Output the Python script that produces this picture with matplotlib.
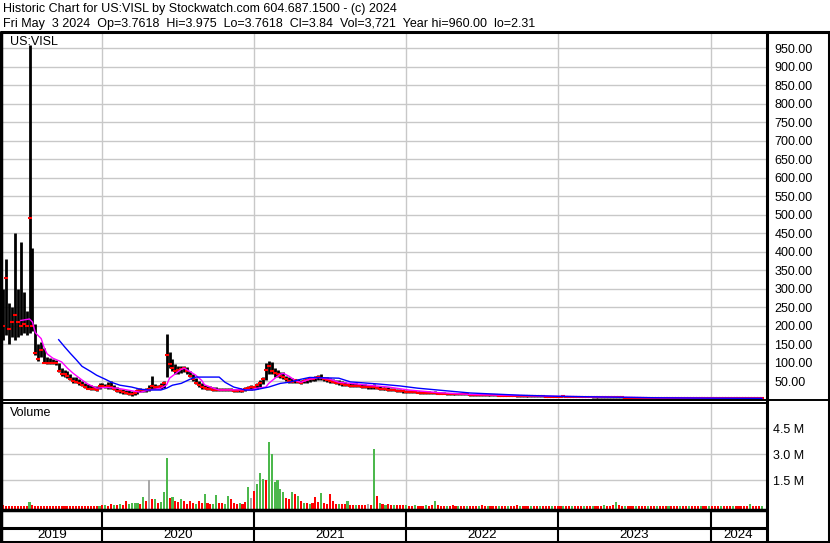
import matplotlib
matplotlib.use("Agg")
import matplotlib.pyplot as plt
import pandas as pd

plt.rcParams['font.family'] = ['Liberation Sans', 'DejaVu Sans']

# --- data (weekly) ---
START_WEEK = "2019-05-10"

HIGH = [
    300, 380, 260, 250, 450, 300, 425, 290, 240, 960,
    410, 205, 150, 155, 140, 115, 112, 110, 108, 100,
    85, 80, 78, 70, 62, 60, 55, 50, 45, 42,
    40, 38, 36, 44, 45, 42, 48, 50, 40, 34,
    30, 28, 26, 25, 22, 22, 28, 32, 30, 32,
    40, 63, 42, 40, 45, 50, 178, 130, 110, 95,
    90, 92, 90, 88, 78, 68, 58, 50, 44, 40,
    38, 36, 34, 33, 32, 32, 31, 32, 31, 30,
    30, 31, 30, 34, 38, 40, 38, 45, 52, 60,
    98, 104, 102, 85, 80, 76, 74, 65, 62, 58,
    56, 55, 54, 56, 58, 60, 62, 64, 66, 70,
    62, 60, 58, 55, 54, 52, 50, 48, 46, 45,
    44, 44, 43, 42, 41, 40, 40, 42, 38, 36,
    35, 34, 33, 32, 31, 30, 28, 27, 26, 25,
    25, 24, 24, 23, 23, 22, 22, 21, 22, 21,
    20, 20, 19, 19, 18, 18, 17, 18, 17, 17,
    16, 16, 16, 15, 15, 15, 14, 15, 14, 14,
    14, 13, 13, 13, 13, 12, 12, 12, 12, 12,
    12, 11, 11, 11, 11, 11, 10, 10, 10, 10,
    10, 10, 11, 10, 10, 9, 9, 9, 9, 9,
    9, 9, 8, 8, 8, 8, 8, 8, 8, 8,
    8, 7, 7, 7, 7, 7, 7, 6, 6, 6,
    6, 6, 6, 6, 6, 6, 6, 5, 5, 5,
    5, 5, 5, 5, 5, 5, 5, 5, 5, 5,
    5, 5, 5, 5, 5, 5, 5, 5, 5, 5,
    5, 5, 4.8, 4.8, 4.8, 4.8, 4.8, 4.6, 4.6, 4.4,
    4.4,
]
LOW = [
    160, 175, 150, 170, 160, 170, 175, 180, 175, 180,
    185, 120, 105, 115, 100, 95, 96, 95, 94, 75,
    65, 62, 58, 52, 45, 44, 40, 36, 32, 28,
    26, 25, 24, 28, 33, 32, 30, 30, 25, 20,
    18, 16, 15, 13, 11, 12, 16, 20, 20, 21,
    22, 28, 30, 28, 30, 32, 60, 85, 78, 70,
    70, 72, 74, 70, 60, 50, 42, 35, 30, 28,
    27, 25, 24, 24, 22, 23, 22, 22, 22, 21,
    20, 21, 20, 22, 26, 27, 28, 30, 35, 42,
    52, 70, 68, 62, 60, 58, 55, 50, 46, 44,
    45, 44, 42, 44, 46, 48, 50, 50, 52, 52,
    50, 48, 46, 44, 42, 40, 38, 36, 36, 35,
    34, 34, 33, 32, 31, 30, 30, 30, 28, 27,
    26, 25, 24, 23, 22, 21, 20, 19, 19, 18,
    18, 17, 17, 16, 16, 15, 15, 15, 15, 14,
    14, 14, 13, 13, 13, 12, 12, 12, 12, 12,
    11, 11, 11, 11, 10, 10, 10, 10, 10, 10,
    10, 9, 9, 9, 9, 9, 8, 8, 8, 8,
    8, 8, 8, 7, 7, 7, 7, 7, 7, 7,
    7, 7, 7, 7, 6, 6, 6, 6, 6, 6,
    6, 6, 5, 5, 5, 5, 5, 5, 5, 5,
    5, 5, 5, 4, 4, 4, 4, 4, 4, 4,
    4, 4, 4, 4, 3, 3, 3, 3, 3, 3,
    3, 3, 3, 3, 3, 3, 3, 3, 3, 3,
    3, 3, 2.8, 2.8, 2.8, 2.8, 2.8, 2.8, 2.8, 2.8,
    2.8, 2.7, 2.6, 2.5, 2.5, 2.4, 2.4, 2.31, 2.4, 2.5,
    3.5,
]
CLOSE = [
    200, 330, 190, 210, 230, 210, 200, 205, 200, 490,
    200, 125, 110, 135, 100, 100, 100, 98, 100, 78,
    70, 68, 65, 55, 50, 48, 45, 40, 35, 30,
    30, 28, 27, 38, 38, 35, 36, 34, 28, 24,
    22, 20, 18, 16, 14, 18, 24, 26, 25, 27,
    30, 36, 35, 34, 38, 45, 120, 95, 85, 78,
    80, 82, 85, 78, 65, 55, 45, 40, 34, 32,
    30, 28, 27, 26, 25, 26, 25, 26, 25, 24,
    23, 25, 24, 28, 32, 34, 34, 40, 45, 55,
    80, 90, 78, 72, 70, 65, 62, 55, 50, 48,
    52, 48, 46, 50, 52, 55, 56, 58, 60, 58,
    55, 52, 50, 48, 46, 44, 42, 40, 40, 38,
    38, 37, 36, 35, 34, 33, 33, 34, 31, 30,
    29, 28, 27, 26, 25, 24, 23, 22, 21, 21,
    21, 20, 19, 19, 18, 18, 17, 17, 17, 16,
    16, 16, 15, 15, 15, 14, 14, 14, 14, 14,
    13, 13, 13, 13, 12, 12, 12, 12, 12, 12,
    11, 11, 11, 11, 10, 10, 10, 10, 10, 10,
    10, 9, 9, 9, 9, 9, 8, 8, 8, 8,
    8, 8, 9, 8, 8, 8, 7, 7, 7, 7,
    7, 7, 7, 6, 6, 6, 6, 6, 6, 6,
    6, 6, 6, 5, 5, 5, 5, 5, 5, 5,
    5, 5, 5, 5, 4, 4, 4, 4, 4, 4,
    4, 4, 4, 4, 4, 4, 4, 4, 4, 4,
    4, 4, 3.8, 3.8, 3.8, 3.8, 3.8, 3.8, 3.8, 3.8,
    3.8, 3.7, 3.6, 3.5, 3.4, 3.3, 3.2, 3.2, 3.1, 3.3,
    3.84,
]
VOLUME_M = [
    0.06, 0.05, 0.05, 0.04, 0.05, 0.04, 0.04, 0.05, 0.04, 0.25,
    0.06, 0.05, 0.04, 0.05, 0.04, 0.04, 0.04, 0.04, 0.04, 0.05,
    0.04, 0.04, 0.04, 0.04, 0.04, 0.04, 0.04, 0.04, 0.04, 0.04,
    0.04, 0.04, 0.04, 0.05, 0.08, 0.10, 0.05, 0.15, 0.08, 0.06,
    0.12, 0.10, 0.30, 0.12, 0.20, 0.22, 0.20, 0.15, 0.55, 0.30,
    1.50, 0.40, 0.45, 0.20, 0.25, 0.80, 2.80, 0.50, 0.55, 0.30,
    0.25, 0.40, 0.30, 0.15, 0.30, 0.20, 0.15, 0.30, 0.20, 0.70,
    0.20, 0.15, 0.15, 0.65, 0.20, 0.20, 0.15, 0.60, 0.40, 0.20,
    0.15, 0.20, 0.15, 0.25, 1.10, 0.50, 0.90, 1.30, 1.90, 1.60,
    1.50, 3.70, 3.00, 1.40, 1.50, 1.00, 0.80, 0.50, 0.40, 0.80,
    0.70, 0.60, 0.30, 0.20, 0.20, 0.15, 0.20, 0.55, 0.25, 0.75,
    0.20, 0.15, 0.70, 0.30, 0.15, 0.15, 0.12, 0.12, 0.30, 0.10,
    0.10, 0.10, 0.08, 0.10, 0.10, 0.12, 0.08, 3.30, 0.60, 0.20,
    0.15, 0.10, 0.15, 0.08, 0.08, 0.10, 0.06, 0.06, 0.08, 0.05,
    0.05, 0.06, 0.05, 0.05, 0.05, 0.06, 0.05, 0.10, 0.30, 0.08,
    0.05, 0.04, 0.05, 0.04, 0.06, 0.04, 0.05, 0.04, 0.04, 0.05,
    0.04, 0.05, 0.04, 0.04, 0.06, 0.04, 0.04, 0.05, 0.04, 0.04,
    0.05, 0.04, 0.04, 0.05, 0.04, 0.04, 0.06, 0.04, 0.04, 0.04,
    0.04, 0.05, 0.04, 0.04, 0.05, 0.04, 0.04, 0.04, 0.05, 0.04,
    0.04, 0.04, 0.05, 0.04, 0.04, 0.05, 0.04, 0.04, 0.04, 0.05,
    0.04, 0.04, 0.05, 0.04, 0.04, 0.04, 0.06, 0.04, 0.05, 0.08,
    0.25, 0.06, 0.04, 0.05, 0.04, 0.04, 0.04, 0.05, 0.04, 0.04,
    0.04, 0.05, 0.04, 0.04, 0.05, 0.04, 0.04, 0.04, 0.05, 0.04,
    0.04, 0.04, 0.05, 0.04, 0.04, 0.05, 0.04, 0.04, 0.04, 0.05,
    0.04, 0.04, 0.05, 0.04, 0.04, 0.04, 0.05, 0.04, 0.04, 0.04,
    0.05, 0.04, 0.04, 0.04, 0.05, 0.04, 0.15, 0.05, 0.04, 0.04,
    0.04,
]
# r = down week, g = up week, k = unchanged
VOL_DIR = "".join([
    "rrrrrrrrrg", "rrrrrrrrrr", "rrrrrrrrrr", "rrrgrgrrgr", "grrggggrgr",
    "krgrgggrgr", "rgrrrrgrrg", "rrggrrggrr", "rgrrgkrggg", "rggggggrrg",
    "rgrgrgrrrg", "rrrrrgrrgr", "rgrrrkrgrg", "rgrrgrrrgr", "rgrrrgrrgr",
    "rrgrrrgrrg", "rrrgrrgrrr", "grrgrrrgrr", "rgrrgrrrgr", "rrgrrgrrrg",
    "rrgrrrgrrr", "grrgrrrgrr", "rgrrgrrrgr", "rrgrrgrrrg", "rrgrrrgrrr",
    "grrrrrgrrr", "g",
])

# moving averages, (week index, value)
MA_FAST_WK = [6, 9, 10, 11, 13, 14, 15, 17, 20, 22, 24, 27, 29, 32, 35, 39, 44, 47,
              50, 54, 56, 57, 59, 61, 62, 64, 66, 68, 69, 72, 74, 85, 87, 90, 91,
              93, 95, 96, 98, 100, 102, 105, 108, 112, 115, 119, 125, 132, 139,
              149, 160, 177, 190, 207, 224, 241, 260]
MA_FAST = [214, 218, 210, 181, 165, 141, 124, 112, 102, 85, 71, 53, 42, 31, 33, 31,
           24, 20, 26, 31, 40, 58, 70, 82, 85, 76, 66, 52, 40, 31, 26, 27, 31, 34,
           44, 57, 69, 71, 63, 52, 47, 55, 60, 55, 47, 44, 39, 34, 26, 19, 14, 11,
           9, 7, 5, 4, 3.5]
MA_SLOW_WK = [19, 21, 23, 25, 27, 30, 32, 35, 37, 40, 44, 47, 50, 54, 56, 58, 61,
              64, 66, 74, 76, 79, 83, 86, 91, 95, 98, 102, 105, 115, 119, 129, 136,
              142, 160, 177, 190, 207, 224, 241, 260]
MA_SLOW = [162, 143, 125, 108, 90, 76, 66, 55, 47, 39, 34, 28, 26, 26, 31, 39, 44,
           55, 61, 61, 47, 34, 26, 26, 34, 44, 47, 55, 60, 58, 48, 42, 37, 31, 18,
           12, 9, 7, 5, 4, 3.5]

PRICE_TICKS = [50, 100, 150, 200, 250, 300, 350, 400, 450, 500,
               550, 600, 650, 700, 750, 800, 850, 900, 950]
VOL_TICKS = [1.5, 3.0, 4.5]
YEARS = [2019, 2020, 2021, 2022, 2023, 2024]

HEADER_1 = "Historic Chart for US:VISL by Stockwatch.com 604.687.1500 - (c) 2024"
HEADER_2 = ("Fri May  3 2024  Op=3.7618  Hi=3.975  Lo=3.7618  Cl=3.84  "
            "Vol=3,721  Year hi=960.00  lo=2.31")

# --- layout ---
W, H = 830, 543
FS = 9.0
GRID = "#c8c8c8"
VOL_COLORS = {"r": "#ff0000", "g": "#4cb84c", "k": "#a8a8a8"}

fig = plt.figure(figsize=(W / 100, H / 100), dpi=100)
fig.patch.set_facecolor("white")


def box(x0, y0, x1, y1):
    return [x0 / W, 1 - y1 / H, (x1 - x0) / W, (y1 - y0) / H]


dates = pd.date_range(START_WEEK, periods=len(HIGH), freq="7D")
x_lo, x_hi = pd.Timestamp("2019-05-07"), pd.Timestamp("2024-05-13")
year_starts = [pd.Timestamp(f"{y}-01-01") for y in YEARS[1:]]

# price panel
ax = fig.add_axes(box(2, 32, 766, 400))
ax.set_xlim(x_lo, x_hi)
ax.set_ylim(-1, 994)
ax.set_xticks(year_starts)
ax.set_yticks(PRICE_TICKS)
ax.set_yticklabels([f"{v:.2f}" for v in PRICE_TICKS])
ax.yaxis.tick_right()
ax.tick_params(axis="y", length=0, pad=6, labelsize=FS)
ax.tick_params(axis="x", length=0, labelbottom=False)
ax.grid(True, color=GRID, lw=1)
ax.set_axisbelow(True)
for s in ax.spines.values():
    s.set_visible(False)

ax.vlines(dates, LOW, HIGH, color="black", lw=2.0, zorder=3)
ax.plot(dates, CLOSE, ls="none", marker="_", ms=2.5, mew=1.5, color="#ff0000", zorder=4)
ax.plot(dates[MA_FAST_WK], MA_FAST, color="#ff00ff", lw=1, zorder=5)
ax.plot(dates[MA_SLOW_WK], MA_SLOW, color="#0000ff", lw=1, zorder=5)
ax.text(8 / 764, 1 - 10 / 368, "US:VISL", transform=ax.transAxes,
        fontsize=FS, va="center", ha="left")

# volume panel
av = fig.add_axes(box(2, 402, 766, 509))
av.set_xlim(x_lo, x_hi)
av.set_ylim(-0.15, 6.0)
av.set_xticks(year_starts)
av.set_yticks(VOL_TICKS)
av.set_yticklabels([f"{v:.1f} M" for v in VOL_TICKS])
av.yaxis.tick_right()
av.tick_params(axis="y", length=0, pad=5, labelsize=FS)
av.tick_params(axis="x", length=0, labelbottom=False)
av.grid(True, color=GRID, lw=1)
av.set_axisbelow(True)
for s in av.spines.values():
    s.set_visible(False)
av.bar(dates, [v + 0.15 for v in VOLUME_M], bottom=-0.15, width=5,
       color=[VOL_COLORS[c] for c in VOL_DIR], lw=0, zorder=3)
av.text(8 / 764, 1 - 11 / 107, "Volume", transform=av.transAxes,
        fontsize=FS, va="center", ha="left")

# date strip
ad = fig.add_axes(box(2, 509, 766, 542))
ad.set_xlim(x_lo, x_hi)
ad.set_ylim(0, 1)
ad.axis("off")
ad.vlines(year_starts, 0, 1, color="black", lw=1.5)
bounds = [x_lo] + year_starts + [x_hi]
for y, a, b in zip(YEARS, bounds[:-1], bounds[1:]):
    ad.text(a + (b - a) / 2, 0.2, str(y), ha="center", va="center", fontsize=FS + 0.6)

# frame lines in pixel space
af = fig.add_axes([0, 0, 1, 1], zorder=10)
af.set_xlim(0, W)
af.set_ylim(H, 0)
af.axis("off")
af.patch.set_alpha(0)
lines = [
    ((0, 830), (31.5, 31.5), 2.2),
    ((0, 830), (541.5, 541.5), 2.2),
    ((1, 1), (31, 543), 2.5),
    ((766.5, 766.5), (31, 543), 2.2),
    ((828.5, 828.5), (31, 543), 2.2),
    ((0, 830), (400, 400), 1.4),
    ((0, 766), (402.5, 402.5), 1.4),
    ((0, 766), (509.5, 509.5), 2.5),
    ((0, 766), (527.5, 527.5), 2.2),
]
for xs, ys, lw in lines:
    af.plot(xs, ys, color="black", lw=lw, solid_capstyle="butt")

fig.text(3 / W, 1 - 9 / H, HEADER_1, fontsize=FS, va="center", ha="left")
fig.text(3 / W, 1 - 23.5 / H, HEADER_2, fontsize=FS, va="center", ha="left")

fig.savefig("out.png", dpi=100, facecolor="white")
